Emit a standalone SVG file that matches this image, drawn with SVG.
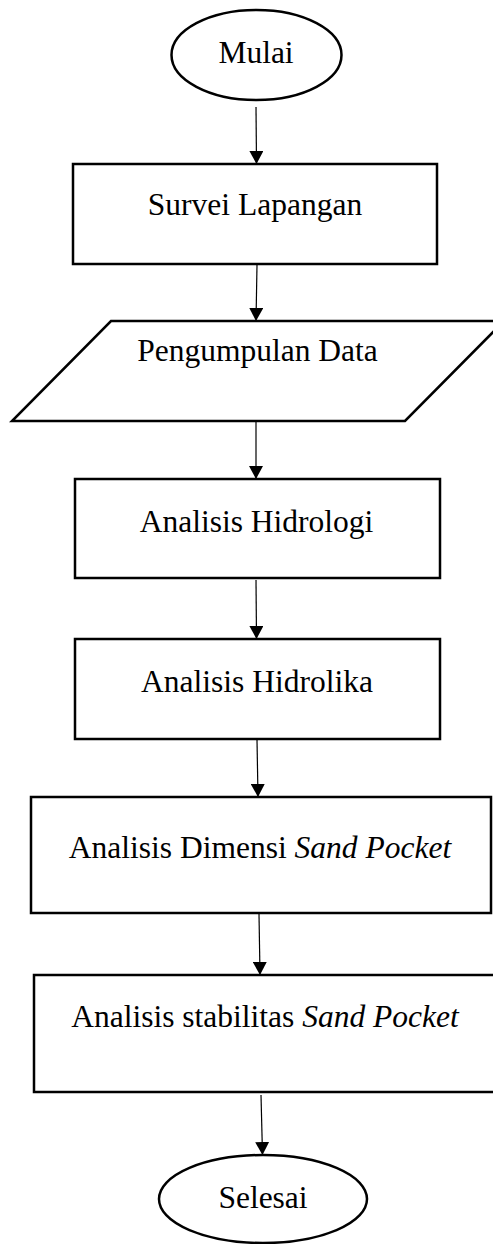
<svg xmlns="http://www.w3.org/2000/svg" width="493" height="1244" viewBox="0 0 493 1244">
<style>
.shape{fill:#fff;stroke:#000;stroke-width:2.5}
.conn{stroke:#000;stroke-width:1.2;fill:none;marker-end:url(#ah)}
.t{font-family:"Liberation Serif","Times New Roman",serif;font-size:31.5px;fill:#000;text-anchor:middle}
.i{font-style:italic}
</style>
<defs>
<marker id="ah" markerUnits="userSpaceOnUse" markerWidth="14" markerHeight="14" refX="13" refY="7" orient="auto">
<path d="M0,0 L13,7 L0,14 z" fill="#000"/>
</marker>
</defs>
<rect width="493" height="1244" fill="#fff"/>
<g id="connectors">
<line class="conn" x1="256" y1="107" x2="256.5" y2="164"/>
<line class="conn" x1="257" y1="265" x2="256" y2="321"/>
<line class="conn" x1="256" y1="422" x2="256" y2="479"/>
<line class="conn" x1="256" y1="580" x2="256.5" y2="639"/>
<line class="conn" x1="257" y1="740" x2="258" y2="797"/>
<line class="conn" x1="259" y1="914" x2="260" y2="975"/>
<line class="conn" x1="261" y1="1095" x2="262.5" y2="1155"/>
</g>
<g id="mulai">
<ellipse class="shape" cx="256.5" cy="55" rx="85" ry="45"/>
<text class="t" x="256" y="63">Mulai</text>
</g>
<g id="survei">
<rect class="shape" x="73" y="164" width="364" height="100"/>
<text class="t" x="255" y="215">Survei Lapangan</text>
</g>
<g id="pengumpulan">
<polygon class="shape" points="111,321 504,321 405,421 12,421"/>
<text class="t" x="257.5" y="361">Pengumpulan Data</text>
</g>
<g id="hidrologi">
<rect class="shape" x="75" y="479" width="365" height="99"/>
<text class="t" x="256.5" y="532">Analisis Hidrologi</text>
</g>
<g id="hidrolika">
<rect class="shape" x="75" y="639" width="365" height="100"/>
<text class="t" x="257" y="692">Analisis Hidrolika</text>
</g>
<g id="dimensi">
<rect class="shape" x="31" y="797" width="460" height="116"/>
<text class="t" x="260" y="858">Analisis Dimensi <tspan class="i">Sand Pocket</tspan></text>
</g>
<g id="stabilitas">
<rect class="shape" x="34" y="975" width="464" height="117"/>
<text class="t" x="265" y="1027">Analisis stabilitas <tspan class="i">Sand Pocket</tspan></text>
</g>
<g id="selesai">
<ellipse class="shape" cx="263" cy="1199" rx="104" ry="44"/>
<text class="t" x="263" y="1208">Selesai</text>
</g>
</svg>
